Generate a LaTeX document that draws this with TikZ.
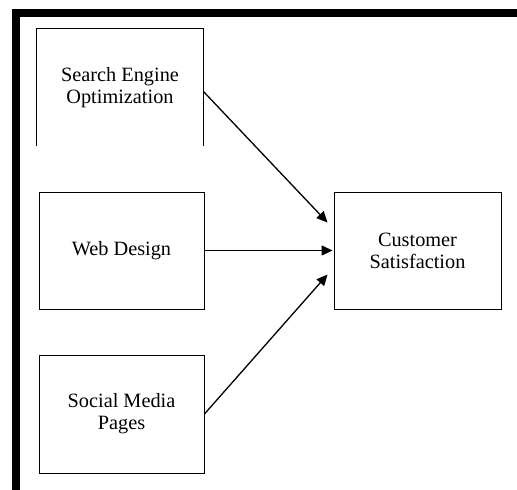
\documentclass[tikz,border=0pt]{standalone}
\usepackage{fontspec}
\setmainfont{Liberation Serif}
\usetikzlibrary{arrows.meta}
\begin{document}
\begin{tikzpicture}[x=1pt,y=-1pt,
  boxnode/.style={draw=black,line width=0.9pt,minimum width=#1,minimum height=117pt,inner sep=0pt,align=center,font=\fontsize{20.3}{22}\selectfont},
  openbox/.style={boxnode=#1,draw=none},
  conn/.style={line width=1.3pt,-{Triangle[length=11pt,width=10pt]}}]
\useasboundingbox (0,0) rectangle (517,490);
\fill[black] (12,9) rectangle (517,17);
\fill[black] (12,9) rectangle (20,490);
\node[openbox=166pt] (seo) at (120,87.5) {Search Engine\\Optimization};
\draw[line width=0.9pt] (seo.south west) -- (seo.north west) -- (seo.north east) -- (seo.south east);
\node[boxnode=165pt] (web) at (121.5,250.5) {Web Design};
\node[boxnode=165pt,minimum height=118pt] (soc) at (121.5,414) {Social Media\\Pages};
\node[boxnode=167pt] (cs) at (417.5,250.5) {Customer\\Satisfaction};
\draw[conn] ([yshift=-4pt]seo.east) -- ([xshift=-6pt,yshift=28pt]cs.west);
\draw[conn] (web.east) -- ([xshift=-1pt]cs.west);
\draw[conn] (soc.east) -- ([xshift=-6pt,yshift=-24pt]cs.west);
\end{tikzpicture}
\end{document}
